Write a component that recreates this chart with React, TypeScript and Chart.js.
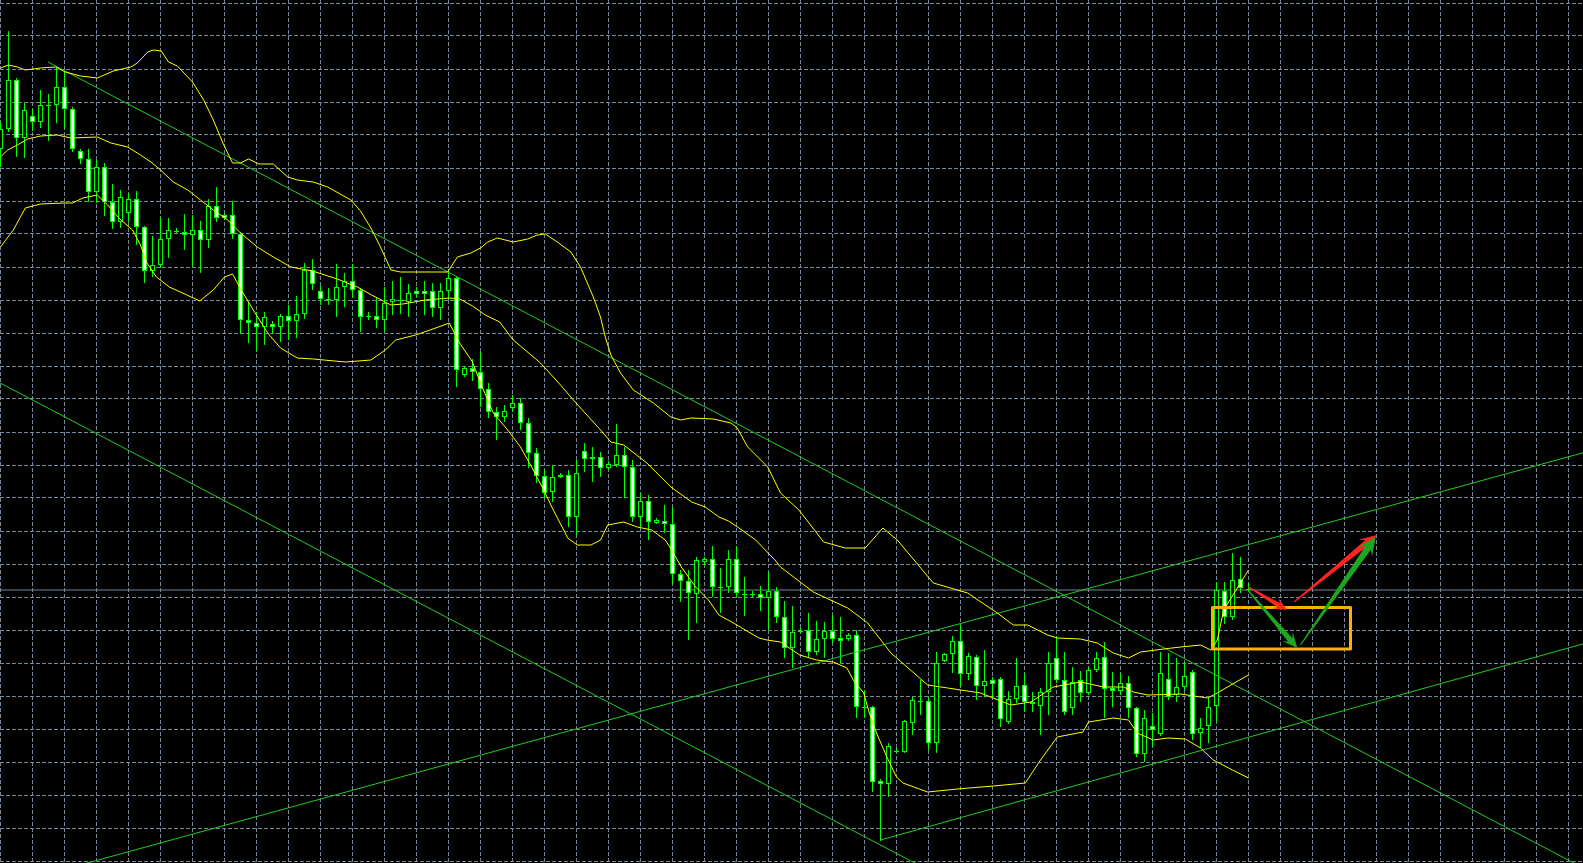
import React, { useEffect, useRef } from "react";
import { Chart, registerables } from "chart.js";

Chart.register(...registerables);

// ---- Candles (bar index 0..156), price in points ----
const candleOpen = [
  712, 732, 781, 723, 745, 739, 756, 756, 774, 752,
  710, 702, 669, 694, 659, 639, 648, 662, 634, 590,
  596, 622, 630, 629, 626, 631, 621, 655, 646, 646,
  627, 541, 538, 534, 537, 534, 545, 540, 547, 591,
  570, 562, 561, 574, 580, 571, 545, 545, 541, 559,
  560, 559, 570, 570, 570, 553, 570, 583, 486, 493,
  489, 472, 449, 444, 453, 458, 438, 408, 385, 369,
  384, 386, 344, 410, 404, 404, 393, 396, 406, 394,
  344, 360, 338, 340, 337, 287, 280, 267, 299, 302,
  274, 274, 302, 267, 267, 267, 263, 270, 244, 213,
  230, 231, 209, 222, 230, 223, 222, 226, 154, 154,
  80, 77, 110, 109, 138, 160, 160, 118, 200, 207,
  220, 187, 204, 175, 181, 182, 139, 162, 176, 159,
  155, 169, 203, 181, 153, 181, 168, 191, 204, 173,
  170, 178, 153, 107, 135, 127, 182, 166, 174, 189,
  128, 135, 155, 270, 244, 282, 272,
];
const candleHigh = [
  739, 830, 783, 758, 752, 771, 767, 793, 789, 754,
  712, 712, 701, 698, 677, 671, 668, 670, 635, 625,
  644, 643, 633, 647, 646, 640, 662, 674, 648, 660,
  629, 559, 549, 549, 540, 547, 556, 565, 598, 602,
  575, 573, 597, 588, 597, 573, 549, 563, 574, 580,
  584, 577, 574, 580, 578, 578, 592, 584, 495, 502,
  509, 478, 454, 456, 466, 463, 443, 413, 391, 396,
  388, 391, 401, 418, 414, 409, 400, 437, 414, 401,
  368, 366, 343, 356, 354, 291, 291, 304, 304, 315,
  293, 311, 315, 284, 270, 275, 289, 274, 260, 255,
  233, 248, 240, 239, 246, 244, 228, 231, 171, 155,
  82, 118, 113, 141, 164, 181, 164, 209, 208, 225,
  236, 208, 206, 211, 184, 184, 170, 203, 188, 169,
  173, 209, 225, 209, 194, 190, 194, 209, 219, 189,
  188, 185, 154, 151, 148, 209, 208, 203, 199, 191,
  143, 163, 279, 279, 308, 304, 278,
];
const candleLow = [
  694, 729, 704, 703, 730, 733, 720, 738, 732, 709,
  697, 659, 658, 645, 632, 633, 639, 616, 578, 584,
  593, 603, 628, 611, 594, 588, 613, 639, 641, 622,
  527, 518, 510, 516, 527, 519, 521, 523, 542, 571,
  556, 556, 544, 554, 563, 529, 541, 533, 529, 546,
  547, 544, 564, 546, 544, 541, 561, 474, 484, 480,
  454, 443, 421, 439, 449, 431, 393, 378, 363, 359,
  383, 334, 326, 389, 379, 384, 391, 394, 363, 339,
  334, 321, 337, 328, 277, 259, 221, 238, 295, 264,
  248, 268, 264, 245, 264, 250, 231, 238, 203, 193,
  228, 203, 206, 203, 218, 198, 220, 143, 143, 69,
  20, 64, 108, 108, 126, 146, 111, 108, 199, 188,
  174, 181, 161, 164, 164, 134, 137, 158, 149, 149,
  126, 146, 178, 146, 146, 159, 166, 189, 143, 154,
  166, 143, 104, 99, 114, 125, 161, 159, 171, 121,
  113, 118, 139, 237, 241, 268, 269,
];
const candleClose = [
  732, 781, 723, 751, 739, 756, 756, 774, 752, 712,
  702, 669, 694, 659, 639, 664, 662, 634, 590, 596,
  622, 631, 630, 626, 631, 621, 655, 643, 643, 627,
  541, 538, 534, 544, 534, 545, 540, 547, 591, 577,
  562, 562, 574, 580, 571, 544, 545, 541, 558, 562,
  561, 568, 567, 567, 553, 570, 583, 491, 493, 489,
  472, 449, 444, 450, 458, 438, 408, 385, 368, 384,
  386, 344, 388, 402, 402, 393, 397, 406, 394, 344,
  360, 339, 341, 337, 287, 280, 268, 301, 302, 274,
  274, 302, 268, 267, 267, 263, 270, 244, 213, 229,
  230, 209, 222, 230, 222, 220, 226, 154, 154, 79,
  77, 115, 110, 140, 161, 160, 118, 198, 207, 220,
  187, 205, 175, 180, 177, 142, 162, 175, 159, 157,
  169, 198, 181, 149, 179, 168, 191, 203, 172, 170,
  178, 153, 107, 143, 131, 188, 164, 174, 185, 127,
  133, 154, 271, 244, 281, 273, 271,
];

// ---- Bollinger bands: [bar, price] ----
const upperBand: [number, number][] = [
  [0, 793], [1, 796], [2.1, 794], [3.1, 791], [5, 793], [6.9, 794], [8.1, 789], [10, 785],
  [12.1, 783], [14.1, 790], [16.3, 794], [17.1, 798], [18.4, 809], [19.1, 811], [20.1, 810],
  [21, 799], [22.1, 795], [24, 779], [25.4, 761], [26.6, 741], [27.8, 718], [29, 698],
  [30, 698], [31, 702], [32.3, 697], [34.1, 697], [35.9, 684], [37.1, 681], [39.1, 679],
  [40.9, 674], [43.8, 661], [45, 650], [46.3, 633], [47.5, 614], [48.8, 591], [50, 589],
  [55.9, 589], [57.1, 604], [58.8, 608], [60, 613], [60.9, 619], [62.1, 623], [64.1, 619],
  [65.9, 622], [67.1, 626], [68.1, 627], [69.6, 619], [71.3, 609], [72.5, 594], [74.1, 564],
  [75, 544], [75.6, 524], [76.3, 506], [77.5, 488], [79.1, 471], [81.6, 458], [83.8, 444],
  [85, 441], [86.3, 443], [89.1, 442], [91.3, 438], [92.1, 433], [93.4, 414], [95.9, 394],
  [97.5, 368], [99.8, 351], [102.9, 319], [105.6, 313], [108.1, 313], [110.3, 333],
  [112.1, 321], [116.6, 278], [120.9, 268], [124.6, 248], [126.6, 236], [128.4, 236],
  [130.9, 226], [132.1, 223], [135, 222], [137.1, 218], [139.1, 208], [141, 203],
  [142.5, 209], [145.4, 212], [147.5, 214], [150, 216], [151.3, 211], [152.1, 221],
  [152.9, 251], [156, 291],
];
const middleBand: [number, number][] = [
  [0, 704], [0.9, 711], [2.1, 716], [3.4, 722], [5, 725], [7.1, 726], [8.8, 723], [12.1, 724],
  [13.8, 718], [15.9, 714], [17.5, 706], [18.8, 699], [20, 691], [21.6, 679], [23.4, 671],
  [25, 661], [26.6, 651], [28.4, 641], [30, 628], [32.1, 614], [34.1, 604], [36.3, 594],
  [39, 590], [42.1, 582], [44.6, 574], [46.4, 566], [48.8, 556], [50.3, 557], [53.1, 561],
  [56.1, 563], [57.4, 562], [59, 555], [60.6, 546], [62.4, 539], [64.1, 521], [67.5, 498],
  [70, 476], [71.6, 461], [75, 431], [76.3, 419], [77.9, 416], [80.8, 398], [83.8, 374],
  [86.4, 359], [88.1, 354], [89.8, 344], [91, 340], [92.3, 333], [94.4, 321], [96.8, 301],
  [97.5, 294], [101.6, 269], [105.9, 253], [108.4, 238], [111.3, 208], [115.9, 176],
  [118.4, 173], [122.5, 168], [126.3, 156], [128.8, 159], [131.6, 174], [135, 179],
  [137.9, 174], [140.4, 174], [141.6, 169], [143.4, 166], [147.5, 167], [150.9, 163],
  [152.1, 168], [154, 177], [156, 186],
];
const lowerBand: [number, number][] = [
  [0, 614], [1.6, 631], [3.1, 653], [5, 657], [7.9, 658], [9, 658], [10.3, 663], [12.1, 666],
  [13.4, 656], [14.8, 643], [16.5, 631], [17.5, 616], [18.3, 598], [19.5, 584], [21.1, 574],
  [23.3, 566], [24.9, 560], [26.6, 571], [28, 584], [29, 587], [30.1, 571], [31.6, 551],
  [33.4, 528], [35, 513], [37.1, 503], [39.1, 502], [43.1, 499], [46.3, 501], [48.1, 511],
  [49.4, 521], [51.9, 526], [54.4, 533], [56.1, 538], [57.4, 518], [59, 499], [60, 478],
  [61.6, 448], [63.4, 431], [65, 414], [66.6, 391], [67.9, 371], [69.1, 351], [70.4, 331],
  [70.9, 323], [72.1, 316], [73.8, 316], [75, 321], [75.9, 336], [77.9, 339], [79.6, 334],
  [81.4, 331], [83.1, 321], [83.9, 311], [85.1, 294], [86.9, 274], [88.5, 261], [89.8, 246],
  [91.4, 239], [93.1, 231], [94.8, 223], [95.8, 221], [97.5, 219], [99.9, 206], [102, 201],
  [104.1, 199], [105.8, 193], [106.6, 181], [107.9, 168], [108.6, 148], [109.5, 128],
  [110.8, 104], [112, 84], [112.8, 78], [115.9, 69], [119.6, 72], [124.1, 75], [128.1, 78],
  [130, 101], [132.1, 124], [135.3, 129], [136, 139], [139.1, 143], [141, 141], [142.1, 128],
  [144.1, 121], [145.9, 123], [148.1, 122], [150, 113], [151.6, 101], [154, 91], [156, 83],
];

// ---- Trend lines: [bar, price] end points ----
const channelTopDown: [number, number][] = [[5.94, 799], [200, -16]];
const channelBottomDown: [number, number][] = [[-1, 482], [115, -5]];
const channelTopUp: [number, number][] = [[-1, -28], [200, 413]];
const channelBottomUp: [number, number][] = [[110, 21], [200, 222]];
const bidPrice = 271;

// ---- Drawn objects ----
const boxBars = [151.5, 168.75];
const boxLevels = [212, 253.5];
const arrowTails: [number, number][] = [[156, 274], [161.7, 259], [156, 270], [162.5, 216]];
const arrowTips: [number, number][] = [[160.8, 251], [172.0, 326], [162.1, 213], [171.9, 324]];
const arrowColors = ["#ff2222", "#ff2222", "#1fa61f", "#1fa61f"];

const BAR_COUNT_VISIBLE = 1583 / 8;

export default function App() {
  const canvasRef = useRef<HTMLCanvasElement>(null);

  useEffect(() => {
    document.body.style.margin = "0";
    document.body.style.background = "#000";
    const canvas = canvasRef.current;
    if (!canvas) return;

    const bodyColors = candleOpen.map((o, i) =>
      o > candleClose[i] ? "#ffffff" : o < candleClose[i] ? "#000000" : "#00ff00"
    );
    const pts = (arr: [number, number][]) => arr.map(([x, y]) => ({ x, y }));

    const gridBars: number[] = [];
    for (let b = 0; b <= 196; b += 4) gridBars.push(b);
    const gridLevels: number[] = [];
    for (let v = 0; v <= 858; v += 33) gridLevels.push(v);

    const drawArrow = (ctx: CanvasRenderingContext2D, x1: number, y1: number, x2: number, y2: number, color: string) => {
      const dx = x2 - x1, dy = y2 - y1;
      const len = Math.hypot(dx, dy);
      const ux = dx / len, uy = dy / len;
      const nx = -uy, ny = ux;
      const hl = 11 + len * 0.055;
      const hw = hl * 0.45;
      const nw = hl * 0.18;
      const tw = 0.6;
      const bx = x2 - ux * hl, by = y2 - uy * hl;
      const kx = x2 - ux * hl * 0.72, ky = y2 - uy * hl * 0.72;
      ctx.beginPath();
      ctx.moveTo(x1 + nx * tw, y1 + ny * tw);
      ctx.lineTo(kx + nx * nw, ky + ny * nw);
      ctx.lineTo(bx + nx * hw, by + ny * hw);
      ctx.lineTo(x2, y2);
      ctx.lineTo(bx - nx * hw, by - ny * hw);
      ctx.lineTo(kx - nx * nw, ky - ny * nw);
      ctx.lineTo(x1 - nx * tw, y1 - ny * tw);
      ctx.closePath();
      ctx.fillStyle = color;
      ctx.fill();
    };

    const overlay = {
      id: "overlay",
      beforeDraw(chart: any) {
        const { ctx, width, height } = chart;
        ctx.save();
        ctx.fillStyle = "#000";
        ctx.fillRect(0, 0, width, height);
        ctx.restore();
      },
      afterDatasetsDraw(chart: any) {
        const { ctx } = chart;
        const xs = chart.scales.x;
        const ys = chart.scales.y;
        ctx.save();
        const l = xs.getPixelForValue(boxBars[0]);
        const r = xs.getPixelForValue(boxBars[1]);
        const t = ys.getPixelForValue(boxLevels[1]);
        const b = ys.getPixelForValue(boxLevels[0]);
        ctx.strokeStyle = "#ffb000";
        ctx.lineWidth = 3;
        ctx.lineJoin = "round";
        ctx.strokeRect(l, t, r - l, b - t);
        arrowTails.forEach((tail, i) => {
          const tip = arrowTips[i];
          drawArrow(
            ctx,
            xs.getPixelForValue(tail[0]),
            ys.getPixelForValue(tail[1]),
            xs.getPixelForValue(tip[0]),
            ys.getPixelForValue(tip[1]),
            arrowColors[i]
          );
        });
        ctx.restore();
      },
    };

    const lineBase = {
      type: "line" as const,
      pointRadius: 0,
      borderWidth: 1,
      tension: 0,
      fill: false,
    };

    const chart = new Chart(canvas, {
      type: "bar",
      data: {
        datasets: [
          {
            ...lineBase,
            data: pts([[-1, bidPrice], [200, bidPrice]]),
            borderColor: "#778899",
            order: 7,
          } as any,
          {
            type: "bar",
            data: candleHigh.map((h, i) => ({ x: i, y: [candleLow[i], h] })),
            backgroundColor: "#00ff00",
            borderWidth: 0,
            barThickness: 1,
            grouped: false,
            inflateAmount: 0,
            order: 6,
          } as any,
          {
            type: "bar",
            data: candleOpen.map((o, i) => ({
              x: i,
              y: [Math.min(o, candleClose[i]), Math.max(o, candleClose[i])],
            })),
            backgroundColor: bodyColors,
            borderColor: "#00ff00",
            borderWidth: 1,
            borderSkipped: false,
            barThickness: 5,
            grouped: false,
            inflateAmount: 0,
            minBarLength: 1,
            order: 5,
          } as any,
          { ...lineBase, data: pts(channelTopDown), borderColor: "#22cc22", order: 3 } as any,
          { ...lineBase, data: pts(channelBottomDown), borderColor: "#22cc22", order: 3 } as any,
          { ...lineBase, data: pts(channelTopUp), borderColor: "#22cc22", order: 3 } as any,
          { ...lineBase, data: pts(channelBottomUp), borderColor: "#22cc22", order: 3 } as any,
          { ...lineBase, data: pts(upperBand), borderColor: "#ffff00", order: 2 } as any,
          { ...lineBase, data: pts(middleBand), borderColor: "#ffff00", order: 2 } as any,
          { ...lineBase, data: pts(lowerBand), borderColor: "#ffff00", order: 2 } as any,
        ],
      },
      options: {
        animation: false,
        responsive: false,
        events: [],
        layout: { padding: 0, autoPadding: false },
        plugins: { legend: { display: false }, tooltip: { enabled: false } },
        scales: {
          x: {
            type: "linear",
            min: -0.0625,
            max: -0.0625 + BAR_COUNT_VISIBLE,
            offset: false,
            grid: { color: "#778899", lineWidth: 1, drawTicks: false, offset: false },
            border: { display: false, dash: [4, 2] },
            ticks: { display: false },
            afterBuildTicks: (axis: any) => {
              axis.ticks = gridBars.map((value) => ({ value }));
            },
          },
          y: {
            type: "linear",
            min: -2,
            max: 861,
            grid: { color: "#778899", lineWidth: 1, drawTicks: false },
            border: { display: false, dash: [4, 2] },
            ticks: { display: false },
            afterBuildTicks: (axis: any) => {
              axis.ticks = gridLevels.map((value) => ({ value }));
            },
          },
        },
      } as any,
      plugins: [overlay],
    });

    return () => chart.destroy();
  }, []);

  return <canvas ref={canvasRef} width={1583} height={863} style={{ display: "block" }} />;
}
